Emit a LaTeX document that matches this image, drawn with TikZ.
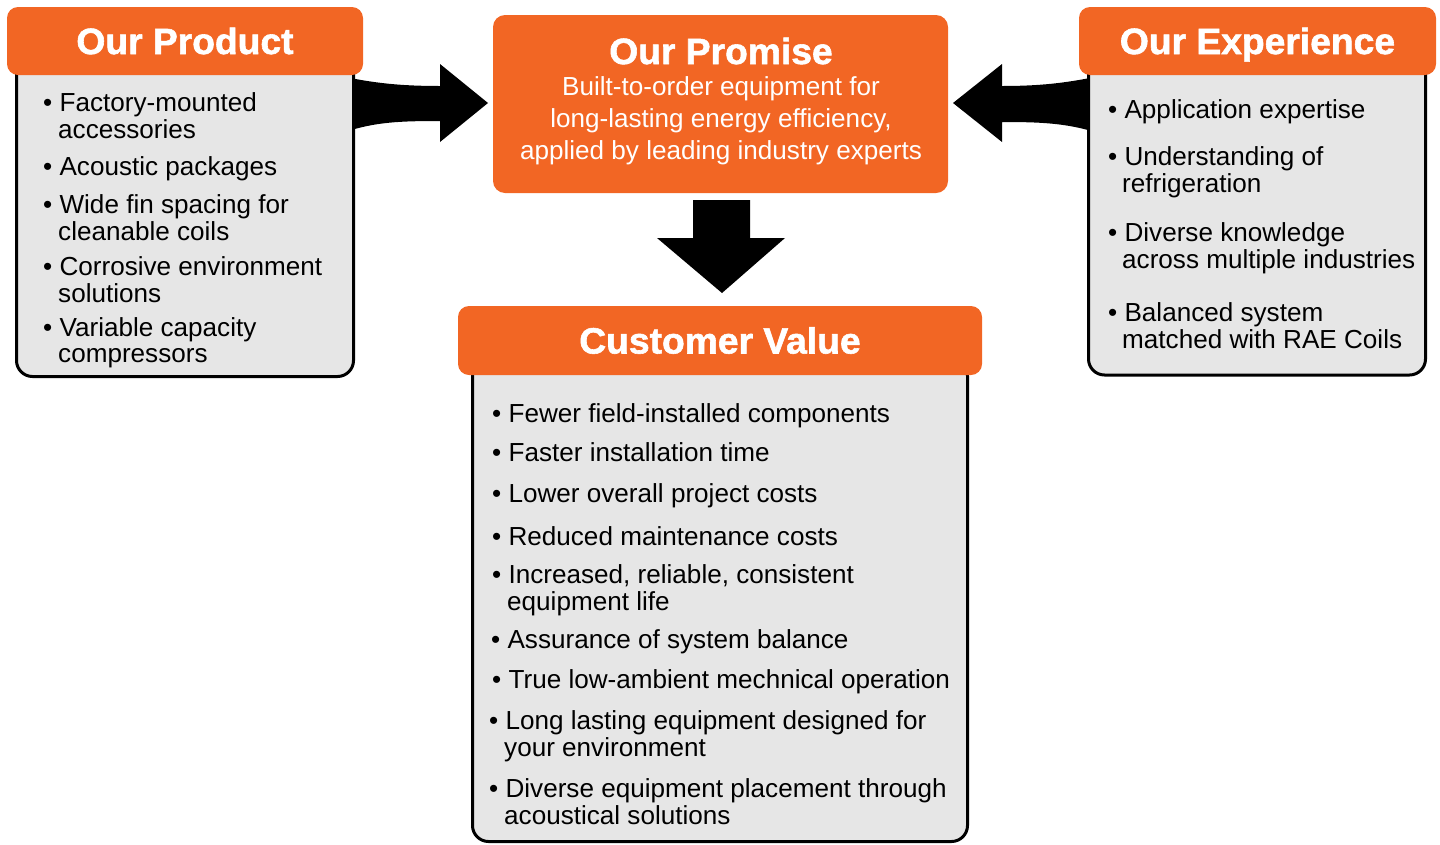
\documentclass[tikz,border=0pt]{standalone}
\usepackage{fontspec}
\setmainfont{Liberation Sans}
\newfontfamily\headfont{Liberation Sans}[BoldFont={* Bold}, BoldFeatures={FakeBold=1.6, FakeStretch=1.02}]
\definecolor{brand}{RGB}{242,102,36}
\definecolor{panel}{RGB}{230,230,230}
\begin{document}
\begin{tikzpicture}[x=1pt,y=-1pt,
  panelbox/.style={draw=black, line width=3pt, fill=panel, rounded corners=16pt,
    inner sep=0pt, outer sep=0pt, anchor=north west},
  headbox/.style={fill=brand, rounded corners=11pt, inner sep=0pt, outer sep=0pt,
    text=white, font=\headfont\fontsize{36.5}{40}\selectfont\bfseries,
    text height=26pt, text depth=0pt},
  item/.style={anchor=north west, align=left, inner sep=0pt,
    font=\fontsize{26.1}{26}\selectfont},
  promisetext/.style={text=white, align=center, inner sep=0pt,
    font=\fontsize{26.1}{32}\selectfont},
  bigarrow/.style={fill=black}]
\useasboundingbox (0,0) rectangle (1440,844);

% arrows feeding the promise and leading to customer value
\fill[bigarrow] (345,77) .. controls (375,83) and (400,86) .. (440,86)
  -- (440,64) -- (488,103) -- (440,142) -- (440,121)
  .. controls (400,121) and (375,122) .. (345,132) -- cycle;
\fill[bigarrow] (1095,77) .. controls (1065,83) and (1040,86) .. (1002,86)
  -- (1002,64) -- (953,103) -- (1002,142) -- (1002,122)
  .. controls (1040,122) and (1065,123) .. (1095,132) -- cycle;
\fill[bigarrow] (693,200) -- (750,200) -- (750,238) -- (785,238) -- (722,293)
  -- (657,238) -- (693,238) -- cycle;

% Our Product
\node[panelbox, minimum width=337pt, minimum height=326.5pt] (prodbody) at (16.5,50) {};
\node[headbox, minimum width=356pt, minimum height=68pt] (prodhead) at (185,41) {Our Product};
\node[item] (p1) at (43,92) {\strut• Factory-mounted\\\strut\hspace{15pt}accessories};
\node[item] (p2) at (43,156) {\strut• Acoustic packages};
\node[item] (p3) at (43,194) {\strut• Wide fin spacing for\\\strut\hspace{15pt}cleanable coils};
\node[item] (p4) at (43,256) {\strut• Corrosive environment\\\strut\hspace{15pt}solutions};
\node[item] (p5) at (43,317) {\strut• Variable capacity\\\strut\hspace{15pt}compressors};

% Our Experience
\node[panelbox, minimum width=337pt, minimum height=325pt] (expbody) at (1088.5,50) {};
\node[headbox, minimum width=357pt, minimum height=68pt] (exphead) at (1257.5,41) {Our Experience};
\node[item] (e1) at (1108,99) {\strut• Application expertise};
\node[item] (e2) at (1108,146) {\strut• Understanding of\\\strut\hspace{14pt}refrigeration};
\node[item] (e3) at (1108,222) {\strut• Diverse knowledge\\\strut\hspace{14pt}across multiple industries};
\node[item] (e4) at (1108,302) {\strut• Balanced system\\\strut\hspace{14pt}matched with RAE Coils};

% Our Promise
\node[fill=brand, rounded corners=12pt, minimum width=455pt, minimum height=178pt,
  inner sep=0pt] (promise) at (720.5,104) {};
\node[headbox, fill=none] (promisehead) at (721,51) {Our Promise};
\node[promisetext] (promisebody) at (721,121)
  {Built-to-order equipment for\\long-lasting energy efficiency,\\applied by leading industry experts};

% Customer Value
\node[panelbox, minimum width=495pt, minimum height=481.5pt] (custbody) at (472.5,360) {};
\node[headbox, minimum width=524pt, minimum height=69pt] (custhead) at (720,340.5) {Customer Value};
\node[item] (c1) at (492,403) {\strut• Fewer field-installed components};
\node[item] (c2) at (492,442) {\strut• Faster installation time};
\node[item] (c3) at (492,483) {\strut• Lower overall project costs};
\node[item] (c4) at (492,526) {\strut• Reduced maintenance costs};
\node[item] (c5) at (492,564) {\strut• Increased, reliable, consistent\\\strut\hspace{15pt}equipment life};
\node[item] (c6) at (491,629) {\strut• Assurance of system balance};
\node[item] (c7) at (492,669) {\strut• True low-ambient mechnical operation};
\node[item] (c8) at (489,710) {\strut• Long lasting equipment designed for\\\strut\hspace{15pt}your environment};
\node[item] (c9) at (489,778) {\strut• Diverse equipment placement through\\\strut\hspace{15pt}acoustical solutions};
\end{tikzpicture}
\end{document}
